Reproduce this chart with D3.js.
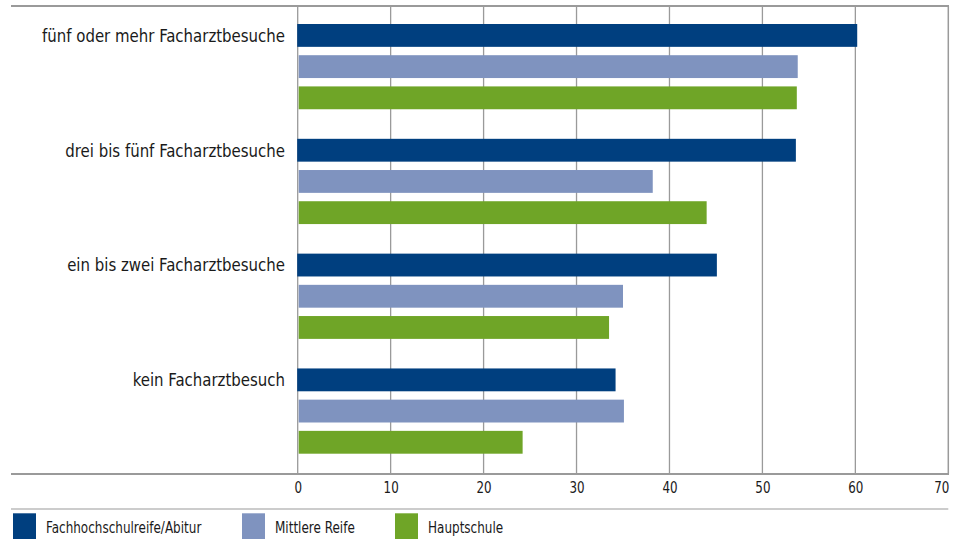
<!DOCTYPE html>
<html>
<head>
<meta charset="utf-8">
<script src="https://cdn.jsdelivr.net/npm/d3@7/dist/d3.min.js"></script>
<style>
  html, body { margin: 0; padding: 0; background: #fff; }
  svg { display: block; }
  text { font-family: "Liberation Sans Narrow", "DejaVu Sans Condensed", "Roboto", sans-serif; fill: #1a1a1a; }
</style>
</head>
<body>
<script>
const categories = ["fünf oder mehr Facharztbesuche", "drei bis fünf Facharztbesuche", "ein bis zwei Facharztbesuche", "kein Facharztbesuch"];
const seriesNames = ["Fachhochschulreife/Abitur", "Mittlere Reife", "Hauptschule"];
const fachhochschulreife = [60.2, 53.6, 45.1, 34.2];
const mittlereReife = [53.8, 38.2, 35.0, 35.1];
const hauptschule = [53.7, 44.0, 33.5, 24.2];
const tickValues = [0, 10, 20, 30, 40, 50, 60, 70];
const colors = ["#003f7f", "#7f93bf", "#6fa527"];

const seriesValues = [fachhochschulreife, mittlereReife, hauptschule];

const W = 963, H = 539;
const svg = d3.select("body").append("svg").attr("width", W).attr("height", H);

const plotLeft = 297.7, plotRight = 948.3, plotTop = 6, plotBottom = 474;
const frameLeft = 11;

function condense(sel, factor) {
  sel.each(function() {
    const w = this.getComputedTextLength();
    d3.select(this).attr("textLength", w * factor).attr("lengthAdjust", "spacingAndGlyphs");
  });
}

const x = d3.scaleLinear().domain([0, 70]).range([plotLeft, plotRight]);
const y = d3.scaleBand().domain(categories).range([24, 453.7]).paddingInner(0.2575).paddingOuter(0);
const yInner = d3.scaleBand().domain(seriesNames).range([0, y.bandwidth()]).paddingInner(0.268).paddingOuter(0);

// gridlines
svg.append("g").selectAll("line").data(tickValues.slice(0, -1)).join("line")
  .attr("x1", d => x(d)).attr("x2", d => x(d))
  .attr("y1", plotTop).attr("y2", plotBottom)
  .attr("stroke", "#9a9a9a").attr("stroke-width", 1.3);
// right border
svg.append("line").attr("x1", plotRight).attr("x2", plotRight).attr("y1", plotTop).attr("y2", plotBottom)
  .attr("stroke", "#9a9a9a").attr("stroke-width", 1.5);
// top border
svg.append("line").attr("x1", frameLeft).attr("x2", plotRight + 0.7).attr("y1", plotTop).attr("y2", plotTop)
  .attr("stroke", "#9a9a9a").attr("stroke-width", 2);

// bars
const groups = svg.append("g").selectAll("g").data(categories).join("g")
  .attr("transform", d => `translate(0,${y(d)})`);
groups.selectAll("rect").data((d, i) => seriesNames.map((s, j) => ({ s, v: seriesValues[j][i], j })))
  .join("rect")
  .attr("x", d => d.j === 0 ? x(0) - 0.5 : x(0) + 1)
  .attr("y", d => yInner(d.s))
  .attr("width", d => x(d.v) - x(0) + (d.j === 0 ? 0.5 : -1))
  .attr("height", yInner.bandwidth())
  .attr("fill", d => colors[d.j]);

// category labels
svg.append("g").selectAll("text").data(categories).join("text")
  .attr("x", 285)
  .attr("y", d => y(d) + yInner(seriesNames[0]) + yInner.bandwidth() / 2)
  .attr("dy", "0.36em")
  .attr("text-anchor", "end")
  .attr("font-size", 17.5)
  .text(d => d)
  .call(condense, 0.95);

// bottom axis line
svg.append("line").attr("x1", frameLeft).attr("x2", plotRight + 0.7).attr("y1", plotBottom).attr("y2", plotBottom)
  .attr("stroke", "#9a9a9a").attr("stroke-width", 2);

// x axis via d3
const axis = d3.axisBottom(x).tickValues(tickValues).tickSize(0).tickPadding(0).tickFormat(d3.format("d"));
const ax = svg.append("g").attr("transform", `translate(0,${plotBottom})`).call(axis);
ax.select(".domain").remove();
ax.selectAll("text")
  .attr("font-size", 15)
  .attr("y", 19)
  .attr("dy", 0)
  .attr("fill", "#1a1a1a")
  .attr("font-family", null)
  .each(function(d) { if (d === 70) d3.select(this).attr("text-anchor", "end").attr("x", 0.5); })
  .call(condense, 0.88);

// legend separator
svg.append("line").attr("x1", frameLeft).attr("x2", plotRight).attr("y1", 509).attr("y2", 509)
  .attr("stroke", "#9a9a9a").attr("stroke-width", 1.2);

// legend
const legendX = [13, 242, 395];
const lg = svg.append("g").selectAll("g").data(seriesNames).join("g")
  .attr("transform", (d, i) => `translate(${legendX[i]},513.3)`);
lg.append("rect").attr("width", 23).attr("height", 26).attr("fill", (d, i) => colors[i]);
lg.append("text").attr("x", 33).attr("y", 19.5).attr("font-size", 15).text(d => d)
  .call(condense, 0.89);
</script>
</body>
</html>
